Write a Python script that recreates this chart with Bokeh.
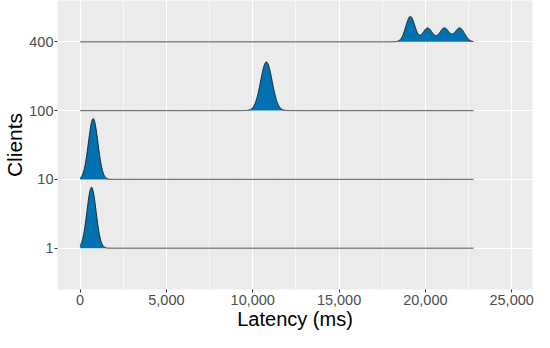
import numpy as np
from bokeh.plotting import figure
from bokeh.models import Range1d, FixedTicker, SingleIntervalTicker, NumeralTickFormatter
from bokeh.embed import file_html
from bokeh.resources import INLINE

# ---- data ----
clients = ["1", "10", "100", "400"]
# each ridge as a sum of peaks: centre (ms), spread (ms), height (in ridge units)
peak_centers = {"1": [660], "10": [755], "100": [10790], "400": [19130, 20130, 21100, 21990]}
peak_spreads = {"1": [265], "10": [275], "100": [335], "400": [265, 280, 280, 280]}
peak_heights = {"1": [0.885], "10": [0.884], "100": [0.707], "400": [0.369, 0.2, 0.2, 0.2]}
latency_min = 0
latency_max = 22790

FILL = "#0072B2"
FONT = "Liberation Sans"

p = figure(width=534, height=332,
           x_range=Range1d(-1311, 26207), y_range=Range1d(0.4, 4.6),
           output_backend="svg", toolbar_location=None,
           min_border_left=0, min_border_right=2, min_border_top=0, min_border_bottom=0)

p.background_fill_color = "#EBEBEB"
p.border_fill_color = "white"
p.outline_line_color = None

grid_x = np.linspace(latency_min, latency_max, 1200)
# draw from top ridge to bottom so lower ridges lie on top
for i in reversed(range(len(clients))):
    c = clients[i]
    base = i + 1
    dens = np.zeros_like(grid_x)
    for m, s, h in zip(peak_centers[c], peak_spreads[c], peak_heights[c]):
        dens += h * np.exp(-0.5 * ((grid_x - m) / s) ** 2)
    top = base + dens
    mask = dens > 0.004
    p.varea(x=grid_x[mask], y1=np.full(mask.sum(), base), y2=top[mask], fill_color=FILL)
    p.line(grid_x, top, line_color="#1a1a1a", line_width=0.9)

# axes
p.xaxis.ticker = SingleIntervalTicker(interval=5000, num_minor_ticks=2)
p.xaxis.formatter = NumeralTickFormatter(format="0,0")
p.yaxis.ticker = FixedTicker(ticks=[1, 2, 3, 4])
p.yaxis.major_label_overrides = {i + 1: c for i, c in enumerate(clients)}

for ax in (p.xaxis, p.yaxis):
    ax.axis_line_color = None
    ax.major_tick_line_color = "#333333"
    ax.major_tick_in = 0
    ax.major_tick_out = 3
    ax.minor_tick_line_color = None
    ax.major_label_text_font = FONT
    ax.major_label_text_font_size = "14.5px"
    ax.major_label_text_color = "#4D4D4D"
    ax.major_label_standoff = 1
    ax.axis_label_text_font = FONT
    ax.axis_label_text_font_style = "normal"
    ax.axis_label_text_color = "black"
    ax.axis_label_standoff = 0

p.xaxis.axis_label = "Latency (ms)"
p.yaxis.axis_label = "Clients"
p.xaxis.axis_label_text_font_size = "20px"
p.yaxis.axis_label_text_font_size = "21px"

p.xgrid.grid_line_color = "white"
p.xgrid.grid_line_width = 1.1
p.xgrid.minor_grid_line_color = "white"
p.xgrid.minor_grid_line_width = 0.6
p.ygrid.grid_line_color = "white"
p.ygrid.grid_line_width = 1.1

open("out.html", "w").write(file_html(p, INLINE))
